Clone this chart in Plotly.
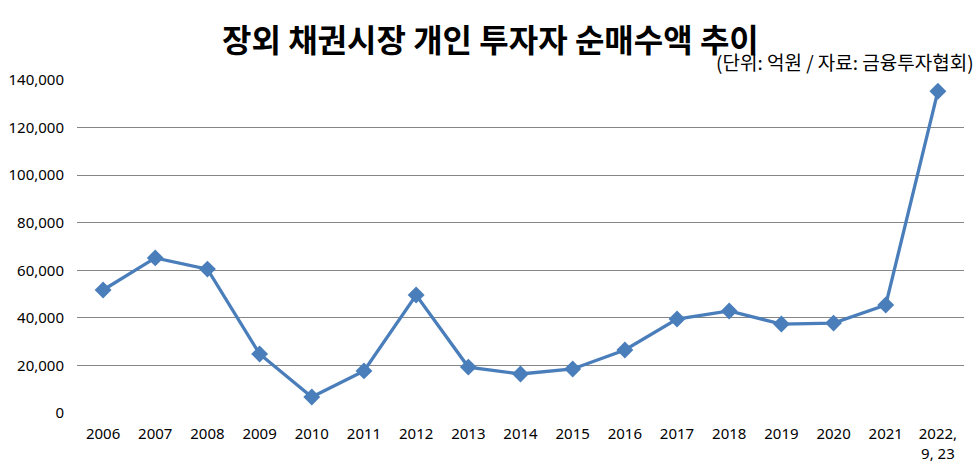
import plotly.graph_objects as go

categories = ["2006", "2007", "2008", "2009", "2010", "2011", "2012", "2013", "2014",
              "2015", "2016", "2017", "2018", "2019", "2020", "2021", "2022,<br>9, 23"]
values = [51700, 65200, 60500, 24800, 6700, 17700, 49600, 19300, 16400,
          18500, 26500, 39500, 42900, 37400, 37800, 45400, 135300]
ytick_vals = [0, 20000, 40000, 60000, 80000, 100000, 120000, 140000]
ytick_text = ["0", "20,000", "40,000", "60,000", "80,000", "100,000", "120,000", "140,000"]

title_text = "장외 채권시장 개인 투자자 순매수액 추이"
subtitle_text = "(단위: 억원 / 자료: 금융투자협회)"

L, R, T, B = 77, 15, 80, 59
W, H = 979, 472
plot_h = H - T - B
plot_w = W - L - R

fig = go.Figure()
fig.add_trace(go.Scatter(
    x=list(range(len(categories))), y=values, mode="lines+markers",
    line=dict(color="#4A7EBB", width=3.3),
    marker=dict(symbol="diamond", size=13, color="#4A7EBB"),
    showlegend=False, hoverinfo="skip",
))

fig.update_layout(
    width=W, height=H,
    margin=dict(l=L, r=R, t=T, b=B, autoexpand=False),
    paper_bgcolor="white", plot_bgcolor="white",
    font=dict(family="Noto Sans, Open Sans, sans-serif", color="black", size=15),
    xaxis=dict(
        range=[-0.5, len(categories) - 0.5],
        tickmode="array", tickvals=list(range(len(categories))), ticktext=categories,
        showgrid=False, zeroline=False, showline=False, ticks="",
        ticklabelstandoff=10, automargin=False,
        tickfont=dict(size=15, family="Noto Sans, sans-serif"),
    ),
    yaxis=dict(
        range=[0, 140000],
        tickmode="array", tickvals=ytick_vals, ticktext=ytick_text,
        showgrid=True, gridcolor="#868686", gridwidth=1,
        zeroline=False, showline=False, ticks="", ticklabelstandoff=12,
        automargin=False,
        tickfont=dict(size=15, family="Noto Sans, sans-serif"),
    ),
    annotations=[
        dict(text="<b>" + title_text + "</b>",
             x=(490 - L) / plot_w, y=1 + (T - 38) / plot_h,
             xref="paper", yref="paper", showarrow=False,
             font=dict(size=32, family="Noto Sans CJK KR", color="black"),
             xanchor="center", yanchor="middle"),
        dict(text=subtitle_text,
             x=(976 - L) / plot_w, y=1 + (T - 77) / plot_h,
             xref="paper", yref="paper", showarrow=False,
             font=dict(size=19, family="Noto Sans CJK KR", color="black"),
             xanchor="right", yanchor="bottom"),
    ],
)

fig.write_html("out.html")
